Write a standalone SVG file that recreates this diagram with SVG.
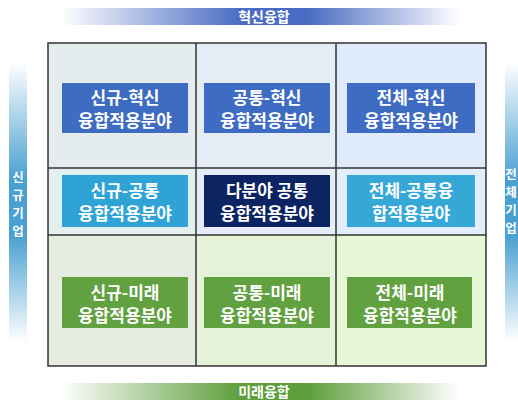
<svg xmlns="http://www.w3.org/2000/svg" width="518" height="407" viewBox="0 0 518 407">
<style>
.lbl{font-family:"Noto Sans CJK KR","Noto Sans",sans-serif;font-size:17px;font-weight:700;fill:#ffffff;text-anchor:middle}
.axis{font-family:"Noto Sans CJK KR","Noto Sans",sans-serif;font-size:14px;font-weight:700;fill:#ffffff;text-anchor:middle}
.vaxis{font-family:"Noto Sans CJK KR","Noto Sans",sans-serif;font-size:12.5px;font-weight:700;fill:#ffffff;text-anchor:middle}
.grid{fill:none;stroke:#333333;stroke-width:1.5}
</style>
<defs>
<linearGradient id="gTop" x1="0" y1="0" x2="1" y2="0">
<stop offset="0" stop-color="#4a6cc4" stop-opacity="0"/>
<stop offset="0.45" stop-color="#4a6cc4" stop-opacity="1"/>
<stop offset="0.62" stop-color="#4a6cc4" stop-opacity="1"/>
<stop offset="1" stop-color="#4a6cc4" stop-opacity="0"/>
</linearGradient>
<linearGradient id="gBot" x1="0" y1="0" x2="1" y2="0">
<stop offset="0" stop-color="#5e9e3c" stop-opacity="0"/>
<stop offset="0.45" stop-color="#5e9e3c" stop-opacity="1"/>
<stop offset="0.62" stop-color="#5e9e3c" stop-opacity="1"/>
<stop offset="1" stop-color="#5e9e3c" stop-opacity="0"/>
</linearGradient>
<linearGradient id="gSide" x1="0" y1="0" x2="0" y2="1">
<stop offset="0" stop-color="#4aa0d0" stop-opacity="0"/>
<stop offset="0.42" stop-color="#4aa0d0" stop-opacity="1"/>
<stop offset="0.62" stop-color="#4aa0d0" stop-opacity="1"/>
<stop offset="1" stop-color="#4aa0d0" stop-opacity="0"/>
</linearGradient>
</defs>
<rect width="518" height="407" fill="#ffffff"/>

<g id="axis-top">
<rect x="60" y="8" width="400" height="17" fill="url(#gTop)"/>
<text class="axis" x="264" y="22">혁신융합</text>
</g>
<g id="axis-bottom">
<rect x="60" y="383" width="400" height="17" fill="url(#gBot)"/>
<text class="axis" x="264" y="397">미래융합</text>
</g>
<g id="axis-left">
<rect x="9" y="62" width="18" height="280" fill="url(#gSide)"/>
<text class="vaxis" x="18" y="182">신</text>
<text class="vaxis" x="18" y="200">규</text>
<text class="vaxis" x="18" y="218">기</text>
<text class="vaxis" x="18" y="236">업</text>
</g>
<g id="axis-right">
<rect x="505" y="62" width="13" height="280" fill="url(#gSide)"/>
<text class="vaxis" x="511" y="179">전</text>
<text class="vaxis" x="511" y="197">체</text>
<text class="vaxis" x="511" y="215">기</text>
<text class="vaxis" x="511" y="233">업</text>
</g>

<g id="cells">
<rect x="48" y="43" width="148" height="125" fill="#e4ecee"/>
<rect x="196" y="43" width="140" height="125" fill="#e4ecf6"/>
<rect x="336" y="43" width="150" height="125" fill="#dfeafb"/>
<rect x="48" y="168" width="148" height="67" fill="#e4eff0"/>
<rect x="196" y="168" width="140" height="67" fill="#e6edf8"/>
<rect x="336" y="168" width="150" height="67" fill="#e2eefb"/>
<rect x="48" y="235" width="148" height="131" fill="#e6ece0"/>
<rect x="196" y="235" width="140" height="131" fill="#e4f2d8"/>
<rect x="336" y="235" width="150" height="131" fill="#e6f8d6"/>
</g>
<g id="grid">
<rect class="grid" x="48" y="43" width="438" height="323"/>
<line class="grid" x1="196" y1="43" x2="196" y2="366"/>
<line class="grid" x1="336" y1="43" x2="336" y2="366"/>
<line class="grid" x1="48" y1="168" x2="486" y2="168"/>
<line class="grid" x1="48" y1="235" x2="486" y2="235"/>
</g>

<g id="n11"><rect x="62" y="83" width="126" height="50" fill="#3d6cc2"/>
<text class="lbl" x="125" y="104">신규-혁신</text><text class="lbl" x="125" y="127">융합적용분야</text></g>
<g id="n12"><rect x="204" y="83" width="126" height="50" fill="#3d6cc2"/>
<text class="lbl" x="267" y="104">공통-혁신</text><text class="lbl" x="267" y="127">융합적용분야</text></g>
<g id="n13"><rect x="347" y="83" width="128" height="50" fill="#3d6cc2"/>
<text class="lbl" x="411" y="104">전체-혁신</text><text class="lbl" x="411" y="127">융합적용분야</text></g>

<g id="n21"><rect x="62" y="175" width="126" height="52" fill="#30a3d6"/>
<text class="lbl" x="125" y="197">신규-공통</text><text class="lbl" x="125" y="220">융합적용분야</text></g>
<g id="n22"><rect x="204" y="175" width="126" height="52" fill="#0c2462"/>
<text class="lbl" x="267" y="197">다분야 공통</text><text class="lbl" x="267" y="220">융합적용분야</text></g>
<g id="n23"><rect x="347" y="175" width="128" height="52" fill="#36a8d8"/>
<text class="lbl" x="411" y="197">전체-공통융</text><text class="lbl" x="411" y="220">합적용분야</text></g>

<g id="n31"><rect x="62" y="277" width="126" height="51" fill="#62a13f"/>
<text class="lbl" x="125" y="299">신규-미래</text><text class="lbl" x="125" y="322">융합적용분야</text></g>
<g id="n32"><rect x="204" y="277" width="126" height="51" fill="#62a13f"/>
<text class="lbl" x="267" y="299">공통-미래</text><text class="lbl" x="267" y="322">융합적용분야</text></g>
<g id="n33"><rect x="347" y="277" width="125" height="51" fill="#62a13f"/>
<text class="lbl" x="410" y="299">전체-미래</text><text class="lbl" x="410" y="322">융합적용분야</text></g>
</svg>
